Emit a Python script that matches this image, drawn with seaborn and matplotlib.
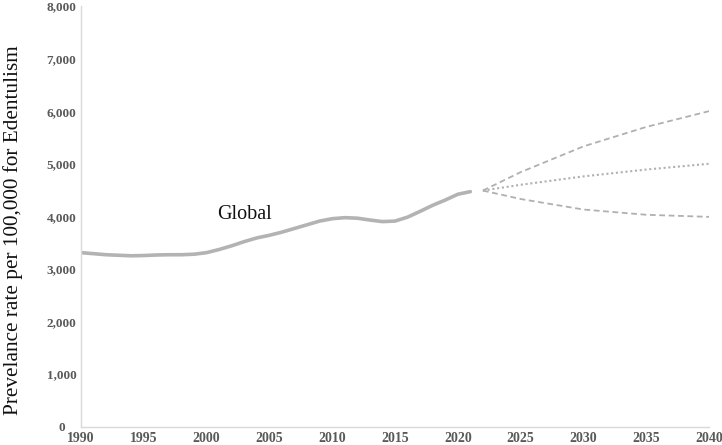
import matplotlib
matplotlib.use("Agg")
import matplotlib.pyplot as plt
import seaborn as sns
import pandas as pd
from matplotlib.ticker import FuncFormatter

# Observed global prevalence (per 100,000), 1990-2021
years = list(range(1990, 2022))
prevalence = [3310, 3290, 3270, 3260, 3250, 3255, 3265, 3270, 3270, 3280,
              3310, 3370, 3440, 3520, 3590, 3640, 3700, 3770, 3840, 3910,
              3955, 3975, 3965, 3930, 3900, 3910, 3985, 4095, 4210, 4310,
              4420, 4470]

# Projections 2022-2040
proj_years = [2022, 2025, 2030, 2035, 2040]
proj_upper = [4490, 4840, 5330, 5700, 6000]
proj_mid = [4490, 4600, 4760, 4890, 5000]
proj_lower = [4490, 4330, 4130, 4030, 3990]

x_ticks = list(range(1990, 2041, 5))
y_ticks = list(range(0, 8001, 1000))
y_label = "Prevelance rate per 100,000 for Edentulism"
region_label = "Global"

sns.set_theme(style="white")
plt.rcParams["font.family"] = ["Liberation Serif", "DejaVu Serif"]

fig = plt.figure(figsize=(7.22, 4.45), dpi=100)
ax = fig.add_axes([81 / 722, 18.3 / 445, 628 / 722, 420.7 / 445])

obs = pd.DataFrame({"year": years, "value": prevalence})
sns.lineplot(data=obs, x="year", y="value", ax=ax, color="#b3b3b3",
             linewidth=2.6, solid_capstyle="round")

pu = pd.DataFrame({"year": proj_years, "value": proj_upper})
pm = pd.DataFrame({"year": proj_years, "value": proj_mid})
pl = pd.DataFrame({"year": proj_years, "value": proj_lower})
sns.lineplot(data=pu, x="year", y="value", ax=ax, color="#b0b0b0",
             linewidth=1.3, linestyle=(0, (3.2, 2.0)))
sns.lineplot(data=pm, x="year", y="value", ax=ax, color="#b0b0b0",
             linewidth=1.5, linestyle=(0, (1.0, 1.3)))
sns.lineplot(data=pl, x="year", y="value", ax=ax, color="#b0b0b0",
             linewidth=1.3, linestyle=(0, (3.2, 2.0)))

ax.text(2003.0, 4040, region_label, fontsize=14.5, ha="center", va="center",
        color="#111111")

ax.set_xlim(1990, 2040)
ax.set_ylim(0, 8000)
ax.set_xticks(x_ticks)
ax.set_yticks(y_ticks)
ax.yaxis.set_major_formatter(FuncFormatter(lambda v, p: f"{int(v):,}"))
ax.tick_params(axis="both", length=0, colors="#595959")
ax.tick_params(axis="x", labelsize=10, pad=4)
ax.tick_params(axis="y", labelsize=9.5, pad=14)
for lab in ax.get_xticklabels() + ax.get_yticklabels():
    lab.set_fontweight("bold")
for lab in ax.get_yticklabels():
    lab.set_ha("center")

ax.set_xlabel("")
ax.set_ylabel(y_label, fontsize=15.3, color="#111111")
ax.yaxis.set_label_coords(-0.092, 0.468)

for s in ["top", "right"]:
    ax.spines[s].set_visible(False)
for s in ["left", "bottom"]:
    ax.spines[s].set_color("#d9d9d9")
    ax.spines[s].set_linewidth(1.0)
ax.grid(False)

fig.savefig("out.png", dpi=100)
